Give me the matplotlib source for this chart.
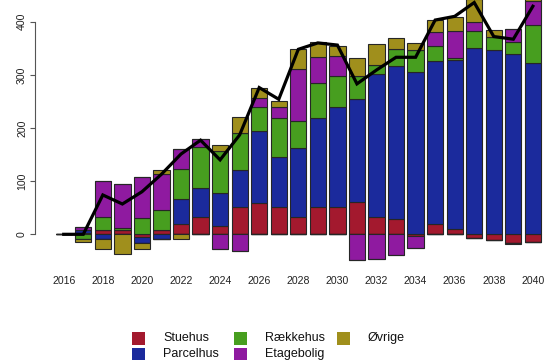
import matplotlib
matplotlib.use("Agg")
import matplotlib.pyplot as plt
from matplotlib.patches import Rectangle
import numpy as np

years = list(range(2016, 2041))
categories = ["Stuehus", "Parcelhus", "Rækkehus", "Etagebolig", "Øvrige"]
colors = ["#A3192E", "#1B2A9C", "#479E1F", "#8F1AA0", "#A08F1C"]

# values per year (2016..2040); negatives drawn below zero
stuehus    = [0, 2, 8, 8, -5, 8, 19, 33, 16, 51, 58, 51, 32, 51, 51, 60, 32, 29, -3, 19, 10, -7, -11, -16, -14]
parcelhus  = [0, 7, -8, 0, -12, -8, 48, 55, 61, 70, 137, 95, 131, 168, 188, 195, 269, 288, 306, 307, 318, 350, 347, 340, 323]
raekkehus  = [0, -8, 24, 3, 31, 37, 56, 77, 80, 69, 45, 72, 51, 65, 58, 42, 17, 31, 41, 29, 3, 33, 25, 22, 71]
etagebolig = [0, 5, 69, 84, 77, 69, 37, 14, -28, -31, 17, 22, 97, 49, 39, -48, -47, -38, -23, 25, 52, 17, 0, 25, 44]
oevrige    = [0, -6, -20, -37, -11, 7, -9, 0, 11, 30, 19, 11, 37, 28, 18, 34, 40, 22, 12, 23, 26, 42, 12, -3, 5]
net_total  = [0, 0, 74, 57, 80, 113, 151, 177, 140, 187, 276, 254, 348, 360, 356, 283, 309, 333, 333, 403, 410, 436, 372, 367, 429]

series = [stuehus, parcelhus, raekkehus, etagebolig, oevrige]
xtick_years = years[::2]

W, H = 546, 360
fig = plt.figure(figsize=(W / 100, H / 100), dpi=100)
ax = fig.add_axes([52 / W, 1 - 266.2 / H, 492.6 / W, 265.8 / H])

x = np.arange(len(years))
pos_base = np.zeros(len(years))
neg_base = np.zeros(len(years))
for vals, col in zip(series, colors):
    v = np.array(vals, dtype=float)
    pos = np.where(v > 0, v, 0)
    neg = np.where(v < 0, v, 0)
    ax.bar(x, pos, bottom=pos_base, width=1 / 1.2, color=col,
           edgecolor="#262626", linewidth=0.8, zorder=2)
    ax.bar(x, neg, bottom=neg_base, width=1 / 1.2, color=col,
           edgecolor="#262626", linewidth=0.8, zorder=2)
    pos_base += pos
    neg_base += neg

ax.plot(x, net_total, color="black", linewidth=2.3, zorder=3,
        solid_joinstyle="miter")

ax.set_xlim(-0.6, 24.6)
ax.set_ylim(-60, 440)

for s in ["top", "right", "bottom"]:
    ax.spines[s].set_visible(False)
ax.spines["left"].set_bounds(0, 400)
ax.spines["left"].set_position(("outward", 12.2))
ax.spines["left"].set_color("#555555")
ax.spines["left"].set_linewidth(0.8)

ax.set_yticks([0, 100, 200, 300, 400])
ax.set_yticklabels(["0", "100", "200", "300", "400"], rotation=90, va="center",
                   fontsize=7.6, family="Liberation Sans", color="#222222")
ax.tick_params(axis="y", length=3.6, width=0.8, color="#555555", pad=2.2)

ax.set_xticks([years.index(y) for y in xtick_years])
ax.set_xticklabels([str(y) for y in xtick_years], fontsize=7.6,
                   family="Liberation Sans", color="#222222")
ax.tick_params(axis="x", length=0, pad=7)

# legend (manual, R style)
legend_items = [
    ("Stuehus", colors[0], 132, 338.3),
    ("Parcelhus", colors[1], 132, 354.0),
    ("Rækkehus", colors[2], 234, 338.3),
    ("Etagebolig", colors[3], 234, 354.0),
    ("Øvrige", colors[4], 337, 338.3),
]
sq = 12.5
for label, col, px, py in legend_items:
    fig.patches.append(Rectangle((px / W, 1 - (py + sq / 2) / H), sq / W, sq / H,
                                 transform=fig.transFigure, facecolor=col,
                                 edgecolor="none"))
    fig.text((px + 31) / W, 1 - py / H, label, fontsize=9,
             family="Liberation Sans", va="center", ha="left", color="#111111")

fig.savefig("out.png", dpi=100)
